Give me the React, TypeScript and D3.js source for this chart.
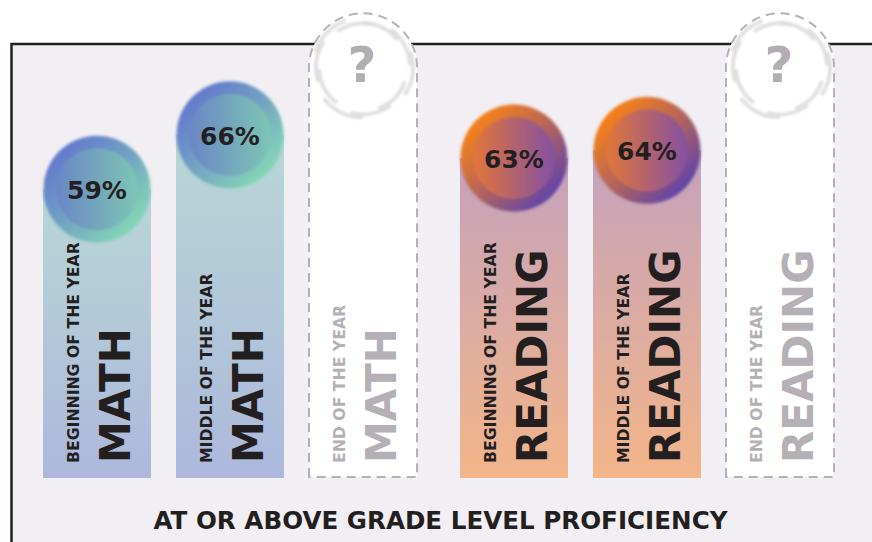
import React from "react";
import * as d3 from "d3";

// chart data
const subjects = ["MATH", "READING"];
const phases = ["BEGINNING OF THE YEAR", "MIDDLE OF THE YEAR", "END OF THE YEAR"];
const mathValues: (number | null)[] = [59, 66, null];
const readingValues: (number | null)[] = [63, 64, null];
const placeholderLevel = 74.7; // height of the "not yet measured" columns
const footerLabel = "AT OR ABOVE GRADE LEVEL PROFICIENCY";

const valuesBySubject: Record<string, (number | null)[]> = {
  MATH: mathValues,
  READING: readingValues,
};

const width = 872;
const height = 542;
const baseY = 478;
const font = "'DejaVu Sans', sans-serif";
const ink = "#231f20";
const ghost = "#b5b0b5";

const palette: Record<string, { barTop: string; barBottom: string; outerA: string; outerB: string; innerA: string; innerB: string }> = {
  MATH: {
    barTop: "#b8d7d6",
    barBottom: "#adb8dc",
    outerA: "#6479cc",
    outerB: "#84d6b6",
    innerA: "#6a86c6",
    innerB: "#7dc6b4",
  },
  READING: {
    barTop: "#c4a2bd",
    barBottom: "#f3b589",
    outerA: "#f7801a",
    outerB: "#6244a8",
    innerA: "#e2763a",
    innerB: "#8450a2",
  },
};

const App: React.FC = () => {
  const xSubject = d3.scaleBand<string>().domain(subjects).range([43, 834]).paddingInner(0.103);
  const xPhase = d3.scaleBand<string>().domain(phases).range([0, xSubject.bandwidth()]).paddingInner(25 / 133);
  const y = d3.scaleLinear().domain([50, 75]).range([205, 11]);

  const bw = xPhase.bandwidth();
  const r = bw / 2;

  const swirl = d3.arc<{ a: number; i: number }>()
    .innerRadius(d => 42 + (d.i % 3) * 3)
    .outerRadius(d => 46 + (d.i % 3) * 3)
    .startAngle(d => d.a)
    .endAngle(d => d.a + 0.9)
    .cornerRadius(1);
  const blades = d3.range(10).map(i => ({ a: (i * Math.PI * 2) / 10, i }));

  const columns = subjects.flatMap(s =>
    phases.map((p, pi) => ({ subject: s, phase: p, value: valuesBySubject[s][pi], key: `${s}-${pi}` }))
  );

  return (
    <svg width={width} height={height} style={{ position: "fixed", left: 0, top: 0, background: "#fff" }}>
      <defs>
        {subjects.map(s => (
          <React.Fragment key={s}>
            <linearGradient id={`bar-${s}`} x1="0" y1="0" x2="0" y2="1">
              <stop offset="0" stopColor={palette[s].barTop} />
              <stop offset="1" stopColor={palette[s].barBottom} />
            </linearGradient>
            <linearGradient id={`outer-${s}`} x1="0.15" y1="0.15" x2="0.85" y2="0.85">
              <stop offset="0" stopColor={palette[s].outerA} />
              <stop offset="0.55" stopColor={d3.interpolateRgb(palette[s].outerA, palette[s].outerB)(0.5)} />
              <stop offset="1" stopColor={palette[s].outerB} />
            </linearGradient>
            <linearGradient id={`inner-${s}`} x1="0" y1="0" x2="1" y2="0">
              <stop offset="0" stopColor={palette[s].innerA} />
              <stop offset="1" stopColor={palette[s].innerB} />
            </linearGradient>
          </React.Fragment>
        ))}
        <filter id="soft" x="-20%" y="-20%" width="140%" height="140%">
          <feGaussianBlur stdDeviation="1.6" />
        </filter>
        <filter id="softer" x="-20%" y="-20%" width="140%" height="140%">
          <feGaussianBlur stdDeviation="0.8" />
        </filter>
      </defs>

      {/* frame */}
      <rect x={11.5} y={44} width={900} height={600} fill="#f1eff3" stroke={ink} strokeWidth={2.5} />

      {columns.map(c => {
        const left = (xSubject(c.subject) ?? 0) + (xPhase(c.phase) ?? 0);
        const cx = left + r;
        const filled = c.value !== null;
        const top = y(filled ? (c.value as number) : placeholderLevel);
        const cy = top + r;
        const textColor = filled ? ink : ghost;

        return (
          <g key={c.key}>
            {filled ? (
              <>
                <rect x={left} y={cy} width={bw} height={baseY - cy} fill={`url(#bar-${c.subject})`} />
                <circle cx={cx} cy={cy} r={r - 0.5} fill={`url(#outer-${c.subject})`} filter="url(#soft)" />
                <circle cx={cx} cy={cy} r={41} fill={`url(#inner-${c.subject})`} filter="url(#softer)" />
                <text
                  x={cx}
                  y={cy + 10}
                  textAnchor="middle"
                  fontFamily={font}
                  fontWeight="bold"
                  fontSize={25}
                  fill={ink}
                >
                  {`${c.value}%`}
                </text>
              </>
            ) : (
              <>
                <path
                  d={`M${left},${baseY - 1} L${left},${cy} A${r},${r} 0 0 1 ${left + bw},${cy} L${left + bw},${baseY - 1} Z`}
                  fill="#fff"
                  stroke={ghost}
                  strokeWidth={2}
                  strokeDasharray="9 6"
                />
                <g transform={`translate(${cx},${cy})`} filter="url(#softer)">
                  {blades.map(b => (
                    <path key={b.i} d={swirl(b) ?? ""} fill="#dcdadd" opacity={0.85} />
                  ))}
                </g>
                <text
                  x={cx - 1}
                  y={cy + 15}
                  textAnchor="middle"
                  fontFamily={font}
                  fontWeight="bold"
                  fontSize={50}
                  fill="#b1adb2"
                >
                  ?
                </text>
              </>
            )}
            <text
              transform={`translate(${left + 36},463) rotate(-90)`}
              fontFamily={font}
              fontWeight="bold"
              fontSize={15.7}
              fill={textColor}
            >
              {c.phase}
            </text>
            <text
              transform={`translate(${left + 87},463) rotate(-90)`}
              fontFamily={font}
              fontWeight="bold"
              fontSize={42}
              fill={textColor}
            >
              {c.subject}
            </text>
          </g>
        );
      })}

      <text
        x={440.5}
        y={529}
        textAnchor="middle"
        fontFamily={font}
        fontWeight="bold"
        fontSize={24.6}
        fill={ink}
      >
        {footerLabel}
      </text>
    </svg>
  );
};

export default App;
